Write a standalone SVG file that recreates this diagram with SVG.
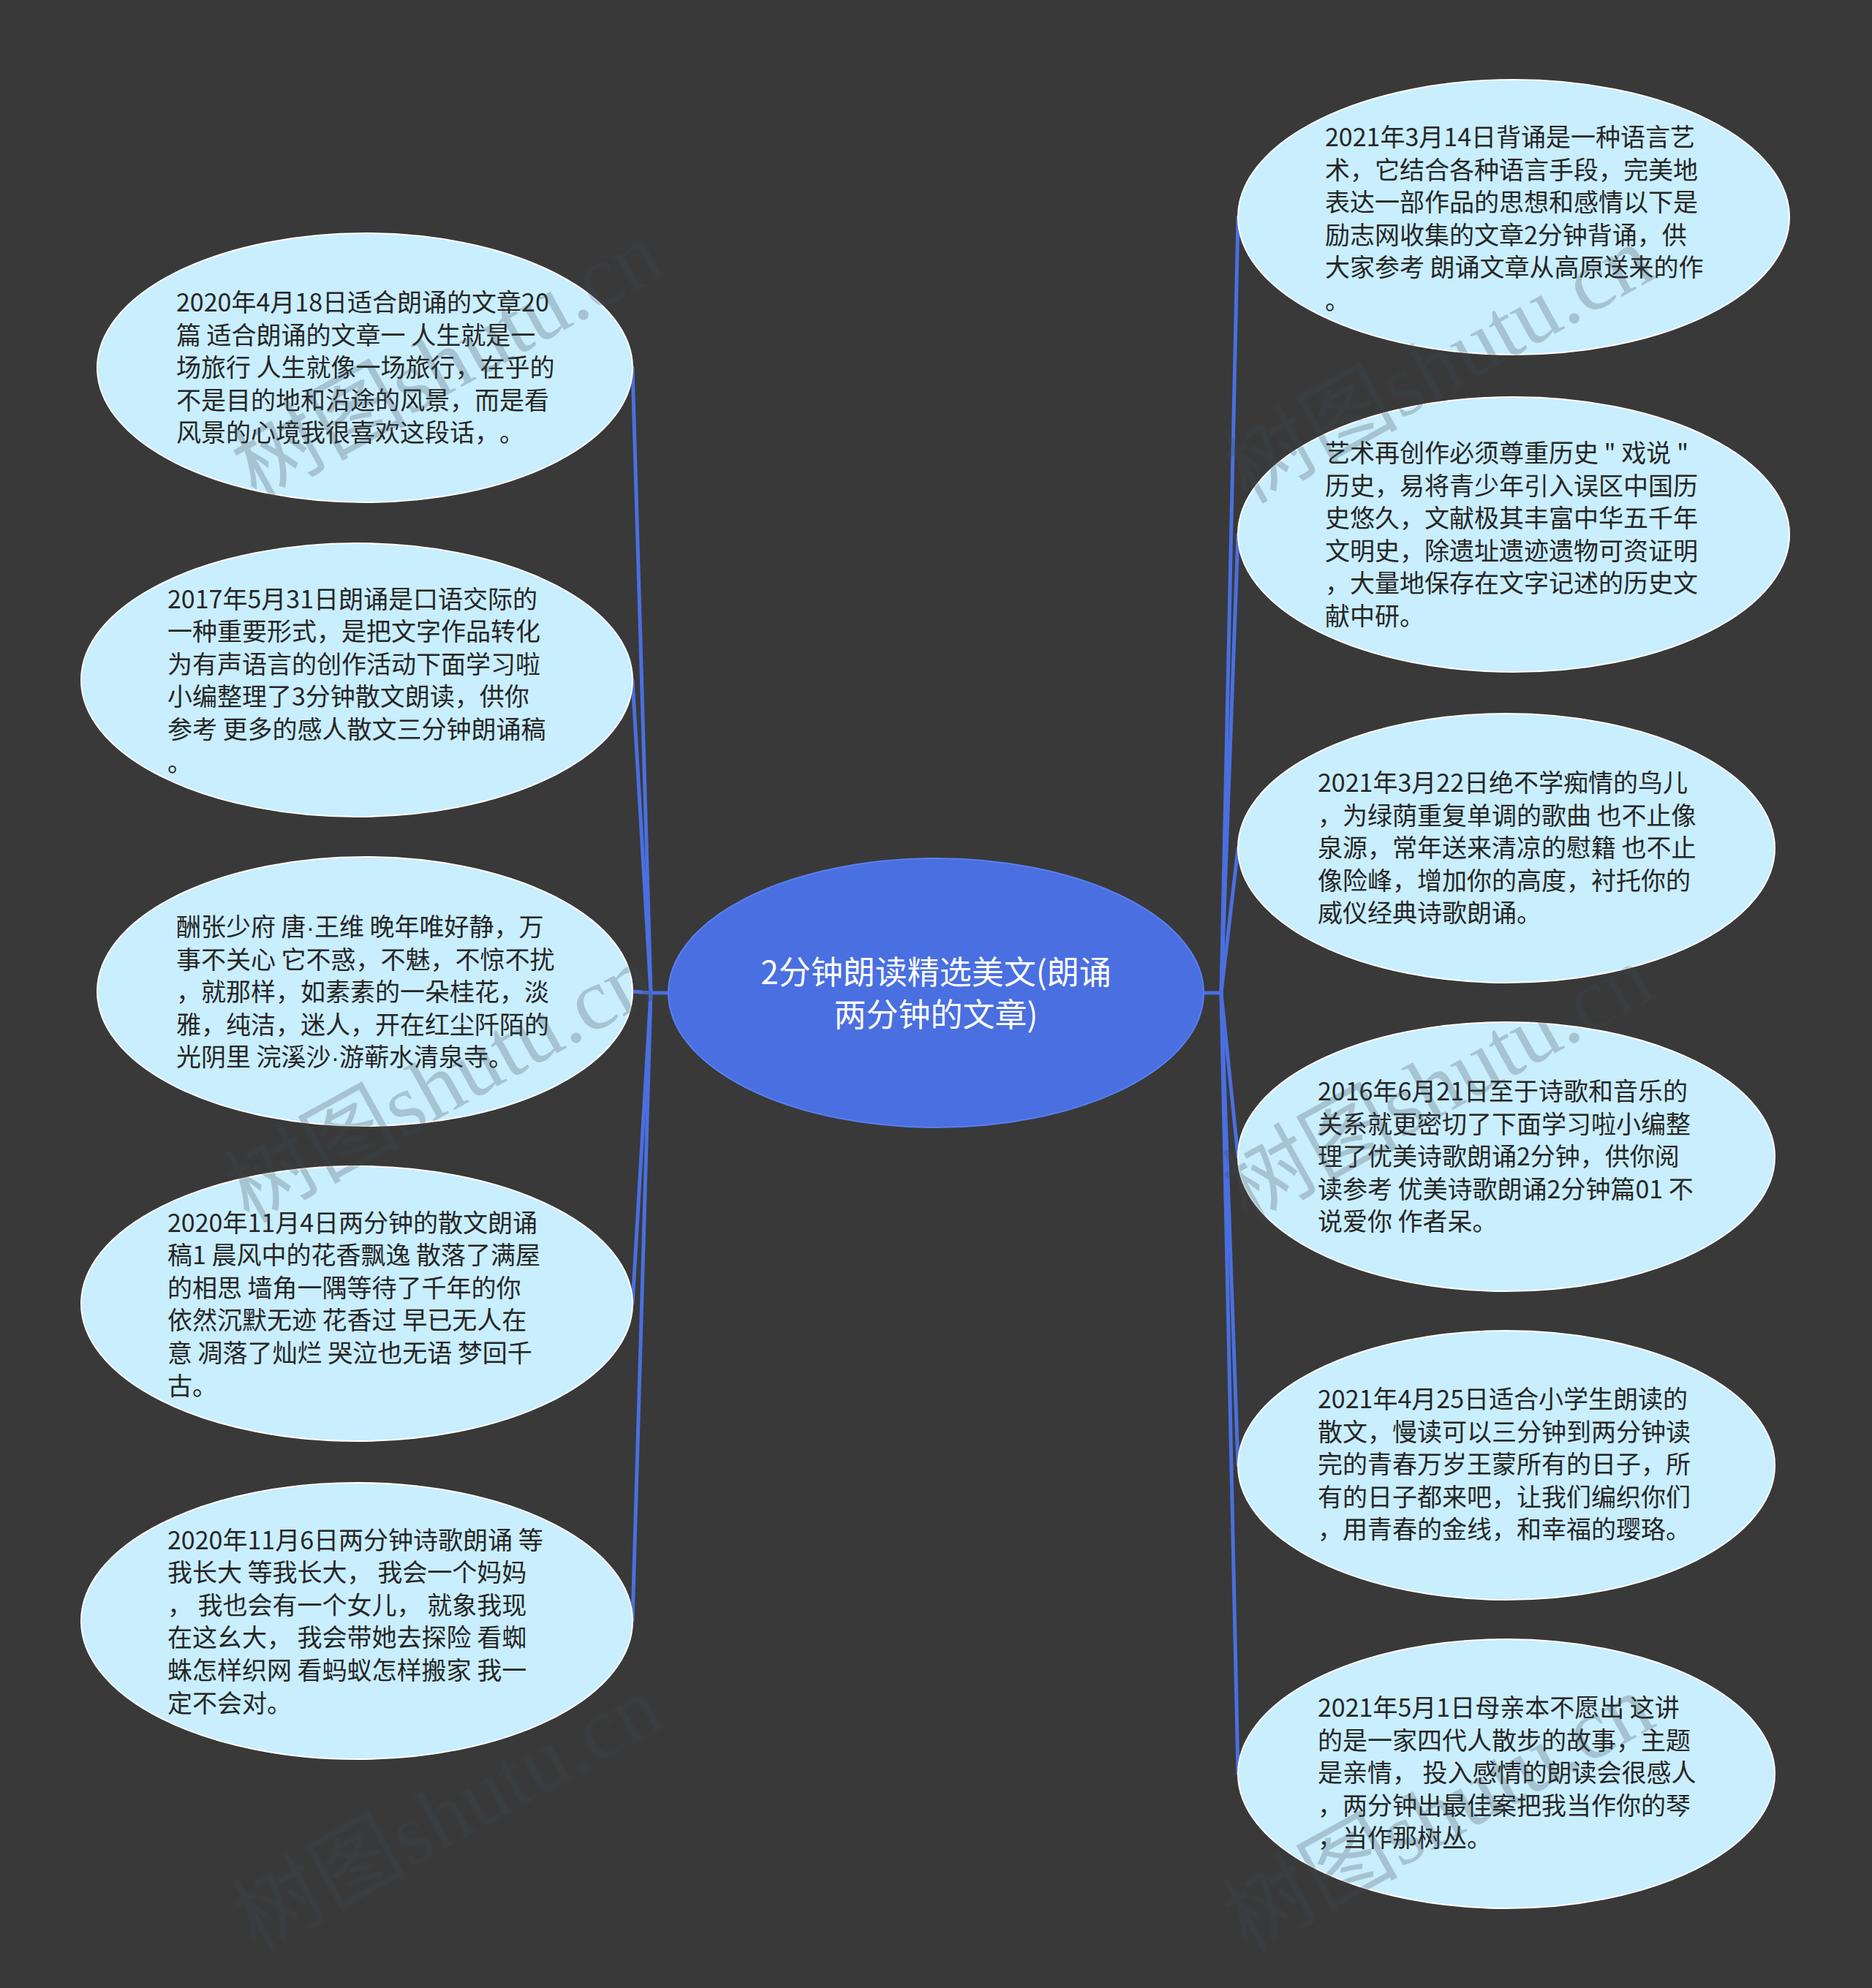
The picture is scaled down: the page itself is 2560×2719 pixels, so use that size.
<svg xmlns="http://www.w3.org/2000/svg" width="2560" height="2719" viewBox="0 0 2560 2719">
<style>
.bg{fill:#393939}
.node ellipse{fill:#c9eefe;stroke:#ffffff;stroke-width:2}
.root ellipse{fill:#4a6fe0;stroke:#5a7ff0;stroke-width:2}
.t{font-family:"Microsoft YaHei","Noto Sans CJK SC","Noto Sans",sans-serif;font-size:34px;fill:#262626;text-spacing-trim:space-all}
.ct{font-family:"Microsoft YaHei","Noto Sans CJK SC","Noto Sans",sans-serif;font-size:44px;fill:#ffffff;text-anchor:middle}
.dot{font-family:"Liberation Sans",sans-serif}
.conn path{fill:none;stroke:#4a6fe0;stroke-width:5;stroke-linecap:round}
.wm{font-family:"Liberation Serif","Noto Sans CJK SC",serif;font-size:120px;fill:#3c4a50;fill-opacity:0.26}
</style>
<rect class="bg" x="0" y="0" width="2560" height="2719"/>

<g id="connectors" class="conn">
<path d="M913 1358 H890"/>
<path d="M890 1358 L865 503"/>
<path d="M890 1358 L865 930"/>
<path d="M890 1358 L865 1356"/>
<path d="M890 1358 L865 1783"/>
<path d="M890 1358 L865 2217"/>
<path d="M1647 1358 H1670"/>
<path d="M1670 1358 L1693 297"/>
<path d="M1670 1358 L1693 731"/>
<path d="M1670 1358 L1693 1160"/>
<path d="M1670 1358 L1693 1582"/>
<path d="M1670 1358 L1693 2004"/>
<path d="M1670 1358 L1693 2426"/>
</g>

<g id="root" class="root">
<ellipse cx="1280" cy="1358" rx="366" ry="184"/>
<text class="ct" x="1280" y="1346">2分钟朗读精选美文(朗诵<tspan x="1280" dy="58">两分钟的文章)</tspan></text>
</g>

<g id="n-l1" class="node">
<ellipse cx="499" cy="503" rx="366" ry="184"/>
<text class="t" x="241" y="426">2020年4月18日适合朗诵的文章20<tspan x="241" dy="44.6">篇 适合朗诵的文章一 人生就是一</tspan><tspan x="241" dy="44.6">场旅行 人生就像一场旅行，在乎的</tspan><tspan x="241" dy="44.6">不是目的地和沿途的风景，而是看</tspan><tspan x="241" dy="44.6">风景的心境我很喜欢这段话，。</tspan></text>
</g>

<g id="n-l2" class="node">
<ellipse cx="488" cy="930" rx="377" ry="187"/>
<text class="t" x="229" y="831.5">2017年5月31日朗诵是口语交际的<tspan x="229" dy="44.6">一种重要形式，是把文字作品转化</tspan><tspan x="229" dy="44.6">为有声语言的创作活动下面学习啦</tspan><tspan x="229" dy="44.6">小编整理了3分钟散文朗读，供你</tspan><tspan x="229" dy="44.6">参考 更多的感人散文三分钟朗诵稿</tspan><tspan x="229" dy="44.6">。</tspan></text>
</g>

<g id="n-l3" class="node">
<ellipse cx="499" cy="1356" rx="366" ry="184"/>
<text class="t" x="241" y="1280">酬张少府 唐<tspan class="dot">·</tspan>王维 晚年唯好静，万<tspan x="241" dy="44.6">事不关心 它不惑，不魅，不惊不扰</tspan><tspan x="241" dy="44.6">，就那样，如素素的一朵桂花，淡</tspan><tspan x="241" dy="44.6">雅，纯洁，迷人，开在红尘阡陌的</tspan><tspan x="241" dy="44.6">光阴里 浣溪沙</tspan><tspan class="dot">·</tspan>游蕲水清泉寺。</text>
</g>

<g id="n-l4" class="node">
<ellipse cx="488" cy="1783" rx="377" ry="188"/>
<text class="t" x="229" y="1684.5">2020年11月4日两分钟的散文朗诵<tspan x="229" dy="44.6">稿1 晨风中的花香飘逸 散落了满屋</tspan><tspan x="229" dy="44.6">的相思 墙角一隅等待了千年的你</tspan><tspan x="229" dy="44.6">依然沉默无迹 花香过 早已无人在</tspan><tspan x="229" dy="44.6">意 凋落了灿烂 哭泣也无语 梦回千</tspan><tspan x="229" dy="44.6">古。</tspan></text>
</g>

<g id="n-l5" class="node">
<ellipse cx="488" cy="2217" rx="377" ry="189"/>
<text class="t" x="229" y="2118.5">2020年11月6日两分钟诗歌朗诵 等<tspan x="229" dy="44.6">我长大 等我长大， 我会一个妈妈</tspan><tspan x="229" dy="44.6">， 我也会有一个女儿， 就象我现</tspan><tspan x="229" dy="44.6">在这幺大， 我会带她去探险 看蜘</tspan><tspan x="229" dy="44.6">蛛怎样织网 看蚂蚁怎样搬家 我一</tspan><tspan x="229" dy="44.6">定不会对。</tspan></text>
</g>

<g id="n-r1" class="node">
<ellipse cx="2070" cy="297" rx="377" ry="188"/>
<text class="t" x="1812" y="200">2021年3月14日背诵是一种语言艺<tspan x="1812" dy="44.6">术，它结合各种语言手段，完美地</tspan><tspan x="1812" dy="44.6">表达一部作品的思想和感情以下是</tspan><tspan x="1812" dy="44.6">励志网收集的文章2分钟背诵，供</tspan><tspan x="1812" dy="44.6">大家参考 朗诵文章从高原送来的作</tspan><tspan x="1812" dy="44.6">。</tspan></text>
</g>

<g id="n-r2" class="node">
<ellipse cx="2070" cy="731" rx="377" ry="188"/>
<text class="t" x="1812" y="632">艺术再创作必须尊重历史 " 戏说 "<tspan x="1812" dy="44.6">历史，易将青少年引入误区中国历</tspan><tspan x="1812" dy="44.6">史悠久，文献极其丰富中华五千年</tspan><tspan x="1812" dy="44.6">文明史，除遗址遗迹遗物可资证明</tspan><tspan x="1812" dy="44.6">，大量地保存在文字记述的历史文</tspan><tspan x="1812" dy="44.6">献中研。</tspan></text>
</g>

<g id="n-r3" class="node">
<ellipse cx="2060" cy="1160" rx="367" ry="184"/>
<text class="t" x="1802" y="1083">2021年3月22日绝不学痴情的鸟儿<tspan x="1802" dy="44.6">，为绿荫重复单调的歌曲 也不止像</tspan><tspan x="1802" dy="44.6">泉源，常年送来清凉的慰籍 也不止</tspan><tspan x="1802" dy="44.6">像险峰，增加你的高度，衬托你的</tspan><tspan x="1802" dy="44.6">威仪经典诗歌朗诵。</tspan></text>
</g>

<g id="n-r4" class="node">
<ellipse cx="2060" cy="1582" rx="367" ry="184"/>
<text class="t" x="1802" y="1505">2016年6月21日至于诗歌和音乐的<tspan x="1802" dy="44.6">关系就更密切了下面学习啦小编整</tspan><tspan x="1802" dy="44.6">理了优美诗歌朗诵2分钟，供你阅</tspan><tspan x="1802" dy="44.6">读参考 优美诗歌朗诵2分钟篇01 不</tspan><tspan x="1802" dy="44.6">说爱你 作者呆。</tspan></text>
</g>

<g id="n-r5" class="node">
<ellipse cx="2060" cy="2004" rx="367" ry="184"/>
<text class="t" x="1802" y="1926">2021年4月25日适合小学生朗读的<tspan x="1802" dy="44.6">散文，慢读可以三分钟到两分钟读</tspan><tspan x="1802" dy="44.6">完的青春万岁王蒙所有的日子，所</tspan><tspan x="1802" dy="44.6">有的日子都来吧，让我们编织你们</tspan><tspan x="1802" dy="44.6">，用青春的金线，和幸福的璎珞。</tspan></text>
</g>

<g id="n-r6" class="node">
<ellipse cx="2060" cy="2426" rx="367" ry="184"/>
<text class="t" x="1802" y="2348">2021年5月1日母亲本不愿出 这讲<tspan x="1802" dy="44.6">的是一家四代人散步的故事，主题</tspan><tspan x="1802" dy="44.6">是亲情， 投入感情的朗读会很感人</tspan><tspan x="1802" dy="44.6">，两分钟出最佳案把我当作你的琴</tspan><tspan x="1802" dy="44.6">，当作那树丛。</tspan></text>
</g>

<g id="watermarks">
<text class="wm" transform="translate(350,685) rotate(-29)">树图shutu.cn</text>
<text class="wm" transform="translate(340,1674) rotate(-29)">树图shutu.cn</text>
<text class="wm" transform="translate(350,2671) rotate(-29)">树图shutu.cn</text>
<text class="wm" transform="translate(1705,690) rotate(-29)">树图shutu.cn</text>
<text class="wm" transform="translate(1705,1674) rotate(-29)">树图shutu.cn</text>
<text class="wm" transform="translate(1705,2671) rotate(-29)">树图shutu.cn</text>
</g>
</svg>
